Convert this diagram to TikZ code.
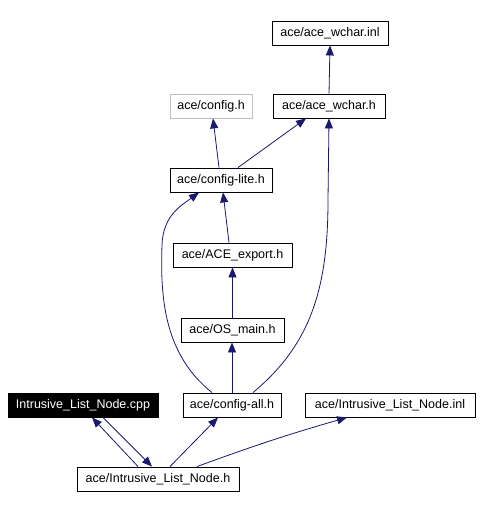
\documentclass[tikz,border=0pt]{standalone}
\usepackage{fontspec}
\setmainfont{Liberation Sans}
\usetikzlibrary{arrows.meta}
\definecolor{edgeblue}{HTML}{191970}
\definecolor{greyborder}{HTML}{BFBFBF}

\begin{document}
\begin{tikzpicture}[x=1pt,y=-1pt,
  font=\fontsize{12.5}{14}\selectfont,
  >={Triangle[length=10pt,width=8pt]},
  file/.style={draw=black,line width=0.9pt,minimum height=24pt,inner xsep=2pt,inner ysep=0pt},
  dep/.style={->,draw=edgeblue,line width=0.8pt}
]
\useasboundingbox (0,0) rectangle (480,510);
% files
\node[file,minimum width=116pt] (wcharinl) at (330,33) {ace/ace\_wchar.inl};
\node[file,draw=greyborder,minimum width=82pt] (config) at (211,106) {ace/config.h};
\node[file,minimum width=112pt] (wcharh) at (329,106) {ace/ace\_wchar.h};
\node[file,minimum width=102pt] (configlite) at (221,180) {ace/config-lite.h};
\node[file,minimum width=119pt] (export) at (232.5,255) {ace/ACE\_export.h};
\node[file,minimum width=103pt] (osmain) at (232.5,330) {ace/OS\_main.h};
\node[file,fill=black,text=white,minimum width=150pt] (cpp) at (83,405) {Intrusive\_List\_Node.cpp};
\node[file,minimum width=98pt] (configall) at (232,405) {ace/config-all.h};
\node[file,minimum width=170pt] (nodeinl) at (390,405) {ace/Intrusive\_List\_Node.inl};
\node[file,minimum width=162pt] (nodeh) at (158,479) {ace/Intrusive\_List\_Node.h};
% includes
\draw[dep] (wcharh.north) -- (wcharinl.south);
\draw[dep] ([xshift=-2pt]configlite.north) -- ([xshift=2pt]config.south);
\draw[dep] ([xshift=17pt]configlite.north) -- ([xshift=-23pt]wcharh.south);
\draw[dep] ([xshift=-3.5pt]export.north) -- ([xshift=2pt]configlite.south);
\draw[dep] (osmain.north) -- (osmain.north |- export.south);
\draw[dep] (configall.north) -- (configall.north |- osmain.south);
\draw[dep] ([xshift=-20pt]configall.north) .. controls (165,355) and (160,300) .. (162,245)
  .. controls (163,215) and (182,205) .. ([xshift=-22pt]configlite.south);
\draw[dep] ([xshift=21pt]configall.north) .. controls (310,345) and (328,290) .. (328,200)
  -- (wcharh.south);
\draw[dep] ([xshift=-20pt]nodeh.north) -- ([xshift=9pt]cpp.south);
\draw[dep] ([xshift=20pt]cpp.south) -- ([xshift=-6pt]nodeh.north);
\draw[dep] ([xshift=12pt]nodeh.north) -- ([xshift=-14pt]configall.south);
\draw[dep] ([xshift=39pt]nodeh.north) to[bend left=2] ([xshift=-43pt]nodeinl.south);
\end{tikzpicture}
\end{document}
